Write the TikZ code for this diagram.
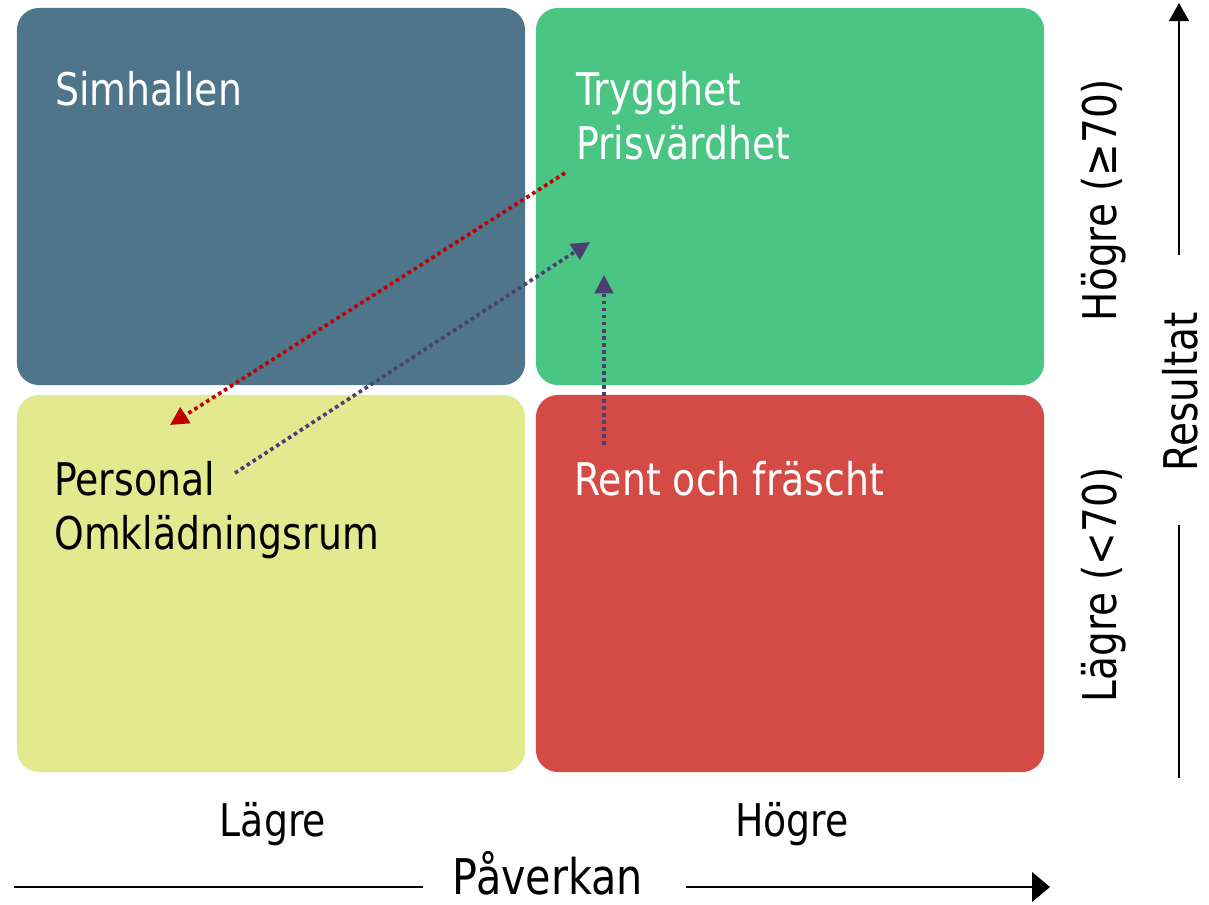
\documentclass[tikz,border=0pt]{standalone}
\usepackage{fontspec}
\setmainfont[FakeStretch=0.84]{DejaVu Sans}
\usepackage{tikz}
\usetikzlibrary{positioning,arrows.meta}
\usepackage{xcolor}
\definecolor{steel}{HTML}{4F758B}
\definecolor{mint}{HTML}{4BC584}
\definecolor{lime}{HTML}{E3E98F}
\definecolor{brick}{HTML}{D44B45}
\definecolor{alert}{HTML}{C00000}
\definecolor{plum}{HTML}{4B3F72}

\begin{document}
\begin{tikzpicture}[x=0.025cm, y=-0.025cm,
    quad/.style={rounded corners=0.55cm, minimum width=12.7cm, minimum height=9.425cm, inner sep=0pt},
    lbl/.style={font=\fontsize{32}{38.4}\selectfont, anchor=base west, align=left, inner sep=0pt},
    axis/.style={font=\fontsize{32}{38}\selectfont, inner sep=0pt},
    trend/.style={dash pattern=on 2.6pt off 2.4pt, line width=2.6pt, -{Triangle[length=13pt,width=13pt]}},
    scale line/.style={line width=1.8pt}]
    \useasboundingbox (0,0) rectangle (1209,904);
    % quadrants
    \node[quad, fill=steel] (hl) at (271,196.5) {};
    \node[quad, fill=mint] (hh) at (790,196.5) {};
    \node[quad, fill=lime] (ll) at (271,583.5) {};
    \node[quad, fill=brick] (lh) at (790,583.5) {};
    % items (base = last line)
    \node[lbl, text=white] (simhall) at (55,105) {Simhallen};
    \node[lbl, text=white] (trygg) at (576,159) {Trygghet\\Prisvärdhet};
    \node[lbl] (personal) at (54,549) {Personal\\Omklädningsrum};
    \node[lbl, text=white] (rent) at (574,495) {Rent och fräscht};
    % shifts
    \coordinate (r0) at (565,173); \coordinate (r1) at (170,425);
    \coordinate (p0) at (235,473); \coordinate (p1) at (590,242);
    \coordinate (v0) at (604,445); \coordinate (v1) at (604,275);
    \draw[trend, alert] (r0) -- (r1);
    \draw[trend, plum] (p0) -- (p1);
    \draw[trend, plum] (v0) -- (v1);
    % x axis
    \node[axis, anchor=base] (lo) at (273,836) {Lägre};
    \node[axis, anchor=base] (hi) at (792,836) {Högre};
    \node[axis, font=\fontsize{35}{40}\selectfont, anchor=base] (pav) at (548,894) {Påverkan};
    \coordinate (x0) at (14,887); \coordinate (xa) at (423,887);
    \coordinate (xb) at (686,887); \coordinate (x1) at (1050,887);
    \draw[scale line] (x0) -- (xa);
    \draw[scale line, -{Triangle[length=12.8pt,width=21pt]}] (xb) -- (x1);
    % y axis
    \node[axis, font=\fontsize{33}{38}\selectfont, rotate=90] (hy) at (1104,200) {Högre (≥70)};
    \node[axis, font=\fontsize{33}{38}\selectfont, rotate=90] (ly) at (1104,585) {Lägre (<70)};
    \node[axis, font=\fontsize{33}{38}\selectfont, rotate=90] (res) at (1180,392) {Resultat};
    \coordinate (y0) at (1179,778); \coordinate (ya) at (1179,525);
    \coordinate (yb) at (1179,255); \coordinate (y1) at (1179,3);
    \draw[scale line] (y0) -- (ya);
    \draw[scale line, -{Triangle[length=12.8pt,width=14pt]}] (yb) -- (y1);
\end{tikzpicture}
\end{document}
